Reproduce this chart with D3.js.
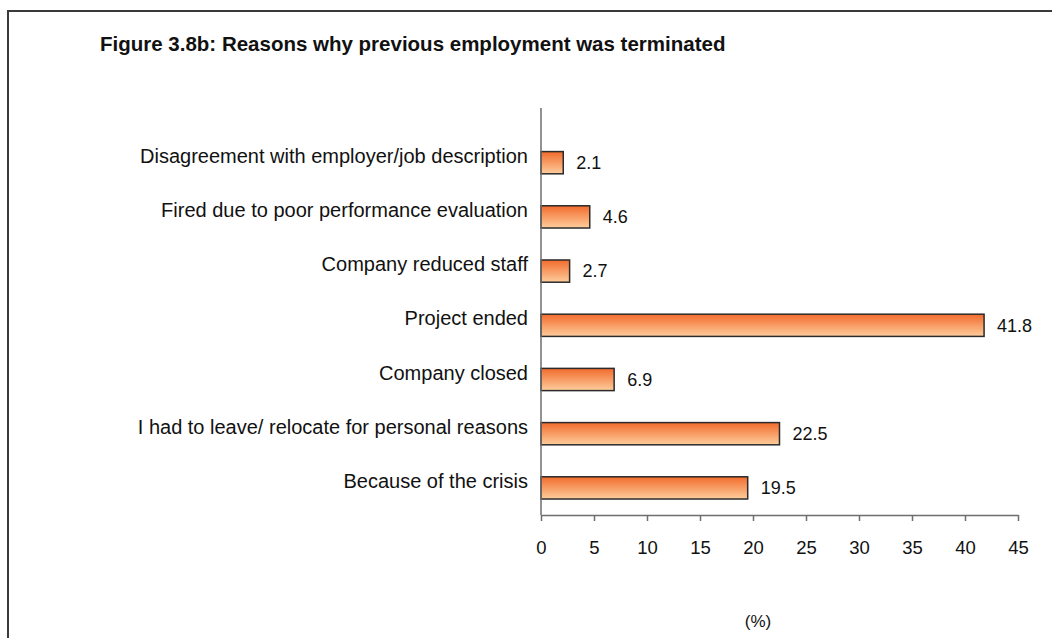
<!DOCTYPE html>
<html>
<head>
<meta charset="utf-8">
<script src="https://cdn.jsdelivr.net/npm/d3@7"></script>
<style>
  html, body { margin: 0; padding: 0; background: #fff; }
  svg { display: block; font-family: "Liberation Sans", Arial, sans-serif; }
</style>
</head>
<body>
<svg id="chart" width="1052" height="638"></svg>
<script>
// Reasons for termination, listed top to bottom, with shares in percent
const categories = [
  "Disagreement with employer/job description",
  "Fired due to poor performance evaluation",
  "Company reduced staff",
  "Project ended",
  "Company closed",
  "I had to leave/ relocate for personal reasons",
  "Because of the crisis"
];
const values = [2.1, 4.6, 2.7, 41.8, 6.9, 22.5, 19.5];
const xTicks = [0, 5, 10, 15, 20, 25, 30, 35, 40, 45];
const titleText = "Figure 3.8b: Reasons why previous employment was terminated";
const unitText = "(%)";

const svg = d3.select("#chart");

// outer frame (open at the right and bottom edges)
svg.append("path")
  .attr("d", "M8,640 L8,11 L1054,11")
  .attr("fill", "none")
  .attr("stroke", "#3a3a3a")
  .attr("stroke-width", 2);

const plotLeft = 541, plotRight = 1018;
const plotTop = 108, plotBottom = 515;

const x = d3.scaleLinear().domain([0, 45]).range([plotLeft, plotRight]);
const y = d3.scaleBand().domain(categories)
  .range([plotBottom - 7 * 54.2, plotBottom])
  .paddingInner(0.59).paddingOuter(0.295);

// bar fill gradient: deep orange on top, pale peach at the bottom
const defs = svg.append("defs");
const grad = defs.append("linearGradient")
  .attr("id", "barGrad").attr("x1", 0).attr("y1", 0).attr("x2", 0).attr("y2", 1);
grad.append("stop").attr("offset", "0%").attr("stop-color", "#f26b2c");
grad.append("stop").attr("offset", "100%").attr("stop-color", "#fdcd9c");

// bars
svg.append("g").selectAll("rect")
  .data(values)
  .join("rect")
  .attr("x", x(0))
  .attr("y", (d, i) => y(categories[i]))
  .attr("width", d => x(d) - x(0))
  .attr("height", y.bandwidth())
  .attr("fill", "url(#barGrad)")
  .attr("stroke", "#2b2b2b")
  .attr("stroke-width", 1.5);

// value labels
svg.append("g").selectAll("text")
  .data(values)
  .join("text")
  .attr("x", d => x(d) + 13)
  .attr("y", (d, i) => y(categories[i]) + y.bandwidth() / 2)
  .attr("dy", "0.35em")
  .attr("font-size", 18)
  .attr("fill", "#111")
  .text(d => d.toFixed(1));

// category labels
svg.append("g").selectAll("text")
  .data(categories)
  .join("text")
  .attr("x", 528)
  .attr("y", d => y(d) + y.bandwidth() / 2 - 7)
  .attr("dy", "0.35em")
  .attr("text-anchor", "end")
  .attr("font-size", 20)
  .attr("fill", "#111")
  .text(d => d);

// vertical axis line
svg.append("line")
  .attr("x1", plotLeft).attr("x2", plotLeft)
  .attr("y1", plotTop).attr("y2", plotBottom)
  .attr("stroke", "#6e6e6e").attr("stroke-width", 1.5);

// horizontal axis
const xAxis = d3.axisBottom(x).tickValues(xTicks).tickSize(6).tickPadding(20).tickSizeOuter(0);
const gx = svg.append("g")
  .attr("transform", `translate(0,${plotBottom})`)
  .call(xAxis);
gx.select(".domain").attr("stroke", "#6e6e6e").attr("stroke-width", 1.5);
gx.selectAll(".tick line").attr("stroke", "#6e6e6e").attr("stroke-width", 1.5);
gx.selectAll(".tick text")
  .attr("font-size", 18.5)
  .attr("font-family", "'Liberation Sans', Arial, sans-serif")
  .attr("fill", "#111");

// title
svg.append("text")
  .attr("x", 100).attr("y", 51)
  .attr("font-size", 20.5)
  .attr("font-weight", "bold")
  .attr("fill", "#111")
  .text(titleText);

// unit label
svg.append("text")
  .attr("x", 758).attr("y", 627)
  .attr("text-anchor", "middle")
  .attr("font-size", 17)
  .attr("fill", "#111")
  .text(unitText);
</script>
</body>
</html>
